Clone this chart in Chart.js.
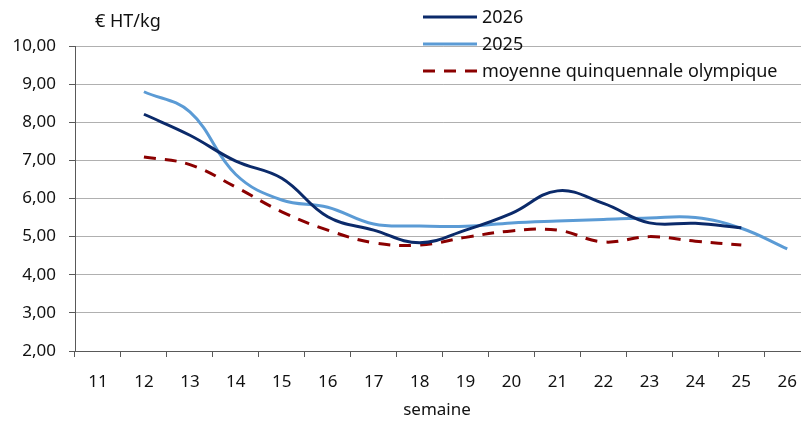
<!DOCTYPE html>
<html>
<head>
<meta charset="utf-8">
<script src="https://cdn.jsdelivr.net/npm/chart.js@4"></script>
<style>
  html, body { margin: 0; padding: 0; background: #fff; overflow: hidden; }
  #wrap { width: 812px; height: 421px; }
</style>
</head>
<body>
<div id="wrap"><canvas id="price-chart"></canvas></div>
<script>
// Data
const weeks = ['11', '12', '13', '14', '15', '16', '17', '18', '19', '20', '21', '22', '23', '24', '25', '26'];
const values2026 = [null, 8.21, 7.66, 6.98, 6.53, 5.52, 5.17, 4.84, 5.17, 5.61, 6.20, 5.87, 5.36, 5.35, 5.23, null];
const values2025 = [null, 8.80, 8.27, 6.63, 5.96, 5.77, 5.33, 5.28, 5.27, 5.36, 5.41, 5.45, 5.49, 5.50, 5.22, 4.68];
const valuesMoyenne = [null, 7.09, 6.89, 6.30, 5.65, 5.17, 4.84, 4.78, 4.98, 5.15, 5.17, 4.86, 5.00, 4.88, 4.78, null];
const yTicks = ['2,00', '3,00', '4,00', '5,00', '6,00', '7,00', '8,00', '9,00', '10,00'];

const FONT = '"Noto Sans", sans-serif';
const TEXT = '#111111';

// Legend + axis titles drawn on the canvas
const extras = {
  id: 'extras',
  afterDraw(chart) {
    const ctx = chart.ctx;
    ctx.save();
    ctx.fillStyle = TEXT;
    ctx.textBaseline = 'middle';
    ctx.font = '18px ' + FONT;
    ctx.textAlign = 'left';
    ctx.fillText('€ HT/kg', 95, 22);
    ctx.font = '17px ' + FONT;
    ctx.textAlign = 'center';
    ctx.fillText('semaine', 437, 410);

    ctx.font = '18px ' + FONT;
    ctx.textAlign = 'left';
    chart.data.datasets.forEach((ds, i) => {
      const y = 17 + i * 27;
      ctx.beginPath();
      ctx.strokeStyle = ds.borderColor;
      ctx.lineWidth = 3;
      ctx.setLineDash(ds.borderDash || []);
      ctx.moveTo(423, y);
      ctx.lineTo(477, y);
      ctx.stroke();
      ctx.setLineDash([]);
      ctx.fillText(ds.label, 482, y + 1);
    });
    ctx.restore();
  }
};

const ctx = document.getElementById('price-chart').getContext('2d');
new Chart(ctx, {
  type: 'line',
  data: {
    labels: weeks,
    datasets: [
      {
        label: '2026',
        data: values2026,
        borderColor: '#0b2a6a',
        borderWidth: 3,
        tension: 0.4,
        pointRadius: 0,
        fill: false
      },
      {
        label: '2025',
        data: values2025,
        borderColor: '#5b9bd5',
        borderWidth: 3,
        tension: 0.4,
        pointRadius: 0,
        fill: false
      },
      {
        label: 'moyenne quinquennale olympique',
        data: valuesMoyenne,
        borderColor: '#8b0000',
        borderWidth: 3,
        borderDash: [12, 9],
        tension: 0.4,
        pointRadius: 0,
        fill: false
      }
    ]
  },
  plugins: [extras],
  options: {
    responsive: true,
    maintainAspectRatio: false,
    animation: false,
    layout: { padding: { top: 46, right: 1, left: 0, bottom: 0 } },
    plugins: {
      legend: { display: false },
      tooltip: { enabled: false }
    },
    scales: {
      x: {
        offset: true,
        afterFit: (scale) => { scale.height = 70; },
        grid: {
          offset: true,
          drawOnChartArea: false,
          tickLength: 6,
          tickColor: '#595959'
        },
        border: { color: '#595959', width: 1 },
        ticks: {
          color: TEXT,
          font: { family: FONT, size: 17 },
          padding: 15,
          maxRotation: 0,
          autoSkip: false
        }
      },
      y: {
        min: 2,
        max: 10,
        afterFit: (scale) => { scale.width = 75; },
        grid: {
          color: '#b0b0b0',
          tickLength: 6,
          tickColor: '#595959'
        },
        border: { color: '#595959', width: 1 },
        ticks: {
          stepSize: 1,
          color: TEXT,
          font: { family: FONT, size: 17 },
          padding: 13,
          callback: (value) => yTicks[value - 2]
        }
      }
    }
  }
});
</script>
</body>
</html>
